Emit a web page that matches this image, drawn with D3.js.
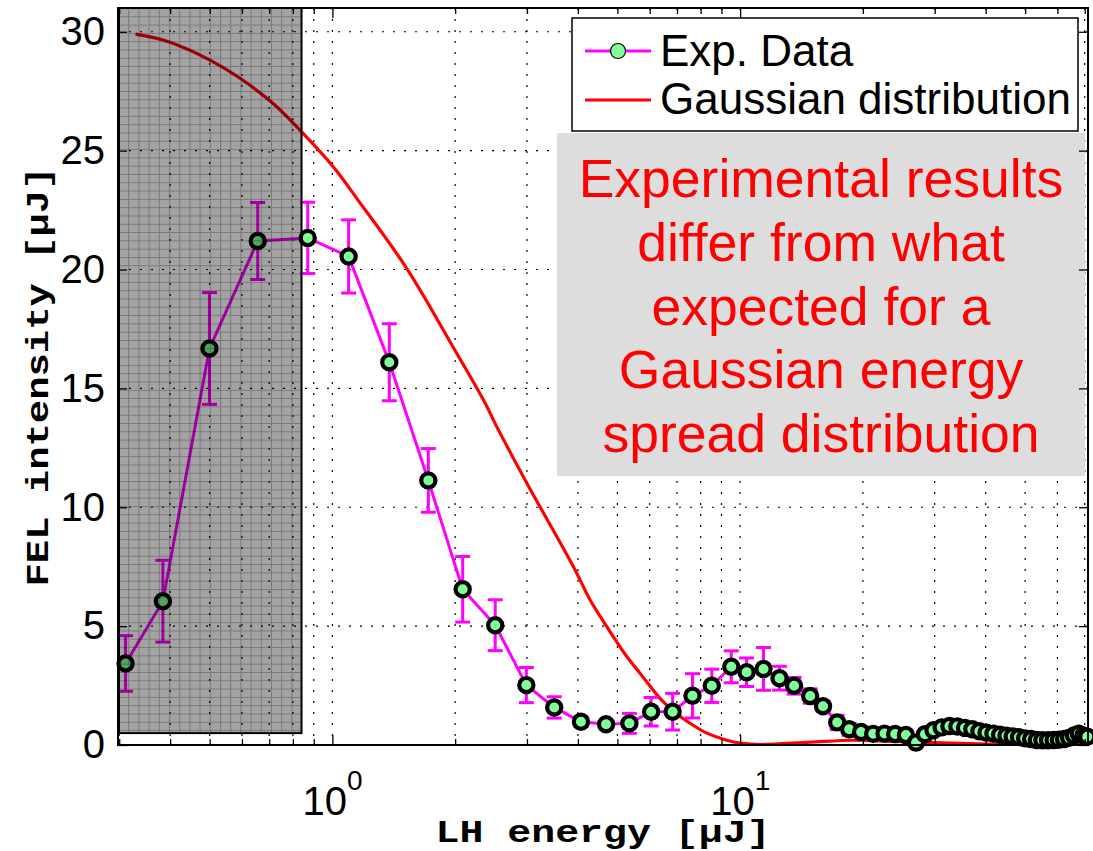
<!DOCTYPE html>
<html><head><meta charset="utf-8">
<script src="https://cdn.jsdelivr.net/npm/d3@7"></script>
<style>body{margin:0;background:#fff}svg{display:block}</style>
</head><body><svg id="c" width="1093" height="851"></svg>
<script>
// ---- data ----
const expX = [0.311, 0.384, 0.4995, 0.656, 0.870, 1.096, 1.379, 1.719, 2.087, 2.508, 2.99, 3.50, 4.07, 4.69, 5.35, 6.05, 6.83, 7.64, 8.52, 9.51, 10.37, 11.41, 12.49, 13.56, 14.85, 15.97, 17.3, 18.51, 19.8, 21.2,
  22.6, 24.0, 25.5, 27.0, 28.4, 29.8, 31.2, 32.6, 34.1, 35.6, 37.1, 38.6, 40.2, 41.8, 43.4, 45.0, 46.6, 48.3, 50.0, 51.7, 53.4, 55.1, 56.9, 58.7, 60.5, 62.3, 64.1, 65.9, 67.7, 69.5, 71.0];
const expY = [3.43, 6.05, 16.68, 21.2, 21.33, 20.55, 16.1, 11.13, 6.55, 5.04, 2.52, 1.58, 0.98, 0.87, 0.91, 1.40, 1.40, 2.07, 2.49, 3.29, 3.06, 3.20, 2.81, 2.49, 2.06, 1.63, 0.95, 0.66, 0.55, 0.47,
  0.48, 0.46, 0.42, 0.10, 0.45, 0.62, 0.74, 0.80, 0.78, 0.72, 0.66, 0.58, 0.52, 0.48, 0.43, 0.39, 0.36, 0.33, 0.28, 0.25, 0.21, 0.20, 0.20, 0.21, 0.22, 0.25, 0.30, 0.40, 0.48, 0.40, 0.35];
const expErr = [1.17, 1.72, 2.35, 1.62, 1.50, 1.54, 1.62, 1.34, 1.38, 1.07, 0.74, 0.45, 0.20, 0.15, 0.42, 0.60, 0.77, 0.93, 0.70, 0.67, 0.60, 0.90, 0.50, 0.35, 0.30, 0.20, 0.30, 0.25, 0.20, 0.15,
  0.12, 0.12, 0.12, 0.10, 0.10, 0.10, 0.10, 0.10, 0.10, 0.10, 0.10, 0.10, 0.10, 0.10, 0.10, 0.10, 0.10, 0.10, 0.10, 0.10, 0.10, 0.10, 0.10, 0.10, 0.10, 0.10, 0.10, 0.10, 0.10, 0.10, 0.10];
const gaussX = [0.329, 0.393, 0.502, 0.606, 0.718, 0.835, 1.007, 1.158, 1.524, 1.983, 2.349, 2.533, 3.001, 3.903, 4.290, 4.713, 5.277, 5.687, 6.368, 6.864, 7.684, 8.286, 9.277, 10.0, 11.19, 14.85, 18.95, 23.75, 34.6, 48.6, 71.3];
const gaussY = [29.9, 29.6, 28.8, 27.94, 26.96, 25.84, 24.3, 22.9, 20.03, 16.7, 14.5, 13.37, 11.0, 7.49, 6.09, 4.97, 3.71, 3.01, 1.95, 1.42, 0.82, 0.50, 0.20, 0.08, 0.02, 0.12, 0.20, 0.15, 0.07, 0.02, 0.0];
const xMajorTicks = [1, 10];
const xMajorExp = ["0", "1"];
const xMinorTicks = [0.3, 0.4, 0.5, 0.6, 0.7, 0.8, 0.9, 2, 3, 4, 5, 6, 7, 8, 9, 20, 30, 40, 50, 60, 70];
const yTicks = [0, 5, 10, 15, 20, 25, 30];
const xDomain = [0.298, 71.3];
const yDomain = [0, 31];
const shadeX = [0.298, 0.84];
const shadeY = [0.5, 31];
const legendLabels = ["Exp. Data", "Gaussian distribution"];
const noteLines = ["Experimental results", "differ from what", "expected for a", "Gaussian energy", "spread distribution"];
const xLabel = "LH energy [\u03bcJ]";
const yLabel = "FEL intensity [\u03bcJ]";

// ---- layout ----
const L = 118, R = 1088, T = 8, B = 745;
const svg = d3.select("#c");
const x = d3.scaleLog().domain(xDomain).range([L, R]);
const y = d3.scaleLinear().domain(yDomain).range([B, T]);
const MAG = "#ff00ff", GRN = "rgb(128,255,153)", RED = "#ff0000";
const sans = "'Liberation Sans', Arial, Helvetica, sans-serif";
const mono = "'Liberation Mono', 'Courier New', monospace";

const defs = svg.append("defs");
const pat = defs.append("pattern").attr("id", "tex").attr("patternUnits", "userSpaceOnUse")
  .attr("width", 10.2).attr("height", 8.3).attr("x", L).attr("y", T);
pat.append("rect").attr("width", 10.2).attr("height", 8.3).attr("fill", "rgba(0,0,0,0.36)");
pat.append("path").attr("d", "M0,0.5H10.2M0.5,0V8.3").attr("stroke", "rgba(0,0,0,0.26)").attr("stroke-width", 1);
defs.append("clipPath").attr("id", "clip").append("rect").attr("x", L).attr("y", T).attr("width", R - L).attr("height", B - T);

// ---- grid ----
const grid = svg.append("g").attr("stroke", "#000").attr("stroke-width", 1.2).attr("stroke-dasharray", "2,9");
grid.selectAll("line.gx").data(xMajorTicks.concat(xMinorTicks)).join("line")
  .attr("x1", d => x(d)).attr("x2", d => x(d)).attr("y1", T).attr("y2", B);
grid.selectAll("line.gy").data(yTicks.slice(1)).join("line")
  .attr("x1", L).attr("x2", R).attr("y1", d => y(d)).attr("y2", d => y(d));

// ---- gaussian curve ----
const gData = gaussX.map((v, i) => [v, gaussY[i]]);
svg.append("path").datum(gData).attr("clip-path", "url(#clip)")
  .attr("fill", "none").attr("stroke", RED).attr("stroke-width", 3.2)
  .attr("d", d3.line().x(d => x(d[0])).y(d => y(d[1])).curve(d3.curveCatmullRom.alpha(0.5)));

// ---- experimental data ----
const eData = expX.map((v, i) => ({ x: v, y: expY[i], e: expErr[i] }));
const eb = svg.append("g").attr("stroke", MAG).attr("stroke-width", 3);
eData.forEach(d => {
  const cx = x(d.x), y1 = y(d.y + d.e), y2 = y(d.y - d.e);
  eb.append("line").attr("x1", cx).attr("x2", cx).attr("y1", y1).attr("y2", y2);
  eb.append("line").attr("x1", cx - 7.5).attr("x2", cx + 7.5).attr("y1", y1).attr("y2", y1);
  eb.append("line").attr("x1", cx - 7.5).attr("x2", cx + 7.5).attr("y1", y2).attr("y2", y2);
});
svg.append("path").datum(eData).attr("fill", "none").attr("stroke", MAG).attr("stroke-width", 3)
  .attr("d", d3.line().x(d => x(d.x)).y(d => y(d.y)));
svg.append("g").selectAll("circle").data(eData).join("circle")
  .attr("cx", d => x(d.x)).attr("cy", d => y(d.y)).attr("r", 7.1)
  .attr("fill", GRN).attr("stroke", "#000").attr("stroke-width", 4.2);

// ---- shaded region ----
svg.append("rect").attr("x", x(shadeX[0]) + 1).attr("y", y(shadeY[1]))
  .attr("width", x(shadeX[1]) - x(shadeX[0]) - 1).attr("height", y(shadeY[0]) - y(shadeY[1]))
  .attr("fill", "url(#tex)").attr("stroke", "#000").attr("stroke-width", 2);

// ---- annotation box ----
const nb = { x0: 557, x1: 1085, y0: 133, y1: 476 };
svg.append("rect").attr("x", nb.x0).attr("y", nb.y0).attr("width", nb.x1 - nb.x0).attr("height", nb.y1 - nb.y0).attr("fill", "#dddddd");
svg.append("g").selectAll("text").data(noteLines).join("text")
  .attr("x", (nb.x0 + nb.x1) / 2).attr("y", (d, i) => 197 + i * 63.8)
  .attr("text-anchor", "middle").attr("font-family", sans).attr("font-size", 53.5).attr("fill", RED)
  .text(d => d);

// ---- axes (ticks inward on all sides) ----
function clean(g) { g.select(".domain").remove(); g.selectAll("line").attr("stroke", "#000").attr("stroke-width", 1.3); }
svg.append("g").attr("transform", `translate(0,${B})`).call(d3.axisBottom(x).tickValues(xMinorTicks).tickSize(-6).tickFormat("")).call(clean);
svg.append("g").attr("transform", `translate(0,${B})`).call(d3.axisBottom(x).tickValues(xMajorTicks).tickSize(-10).tickFormat("")).call(clean);
svg.append("g").attr("transform", `translate(0,${T})`).call(d3.axisTop(x).tickValues(xMinorTicks).tickSize(-6).tickFormat("")).call(clean);
svg.append("g").attr("transform", `translate(0,${T})`).call(d3.axisTop(x).tickValues(xMajorTicks).tickSize(-10).tickFormat("")).call(clean);
const yl = svg.append("g").attr("transform", `translate(${L},0)`).call(d3.axisLeft(y).tickValues(yTicks).tickSize(-9).tickPadding(13));
yl.call(clean);
yl.selectAll("text").attr("font-family", sans).attr("font-size", 40).attr("fill", "#000");
svg.append("g").attr("transform", `translate(${R},0)`).call(d3.axisRight(y).tickValues(yTicks).tickSize(-9).tickFormat("")).call(clean);

// x major labels 10^n
const xl = svg.append("g").selectAll("text").data(xMajorTicks).join("text")
  .attr("x", d => x(d) - 30).attr("y", 815).attr("text-anchor", "start")
  .attr("font-family", sans).attr("font-size", 40).attr("fill", "#000");
xl.append("tspan").text("10");
xl.append("tspan").attr("dy", -25).attr("font-size", 28).text((d, i) => xMajorExp[i]);

// plot box
svg.append("rect").attr("x", L).attr("y", T).attr("width", R - L).attr("height", B - T)
  .attr("fill", "none").attr("stroke", "#000").attr("stroke-width", 2);

// ---- legend ----
const lg = svg.append("g");
lg.append("rect").attr("x", 572).attr("y", 18).attr("width", 506).attr("height", 113)
  .attr("fill", "#fff").attr("stroke", "#000").attr("stroke-width", 1.5);
lg.append("line").attr("x1", 585).attr("x2", 651).attr("y1", 51).attr("y2", 51).attr("stroke", MAG).attr("stroke-width", 3);
lg.append("circle").attr("cx", 618).attr("cy", 51).attr("r", 7.5).attr("fill", GRN).attr("stroke", "#000").attr("stroke-width", 1.2);
lg.append("line").attr("x1", 585).attr("x2", 651).attr("y1", 100).attr("y2", 100).attr("stroke", RED).attr("stroke-width", 3);
lg.selectAll("text").data(legendLabels).join("text")
  .attr("x", 660).attr("y", (d, i) => 66 + i * 48)
  .attr("font-family", sans).attr("font-size", 44).attr("fill", "#000").text(d => d);

// ---- axis titles ----
svg.append("text").attr("x", (L + R) / 2).attr("y", 842).attr("text-anchor", "middle")
  .attr("font-family", mono).attr("font-weight", "bold").attr("font-size", 32).attr("fill", "#000")
  .attr("textLength", 335).attr("lengthAdjust", "spacingAndGlyphs").text(xLabel);
svg.append("text").attr("transform", `translate(48,${(T + B) / 2}) rotate(-90)`).attr("text-anchor", "middle")
  .attr("font-family", mono).attr("font-weight", "bold").attr("font-size", 32).attr("fill", "#000")
  .attr("textLength", 420).attr("lengthAdjust", "spacingAndGlyphs").text(yLabel);
</script>
</body></html>
